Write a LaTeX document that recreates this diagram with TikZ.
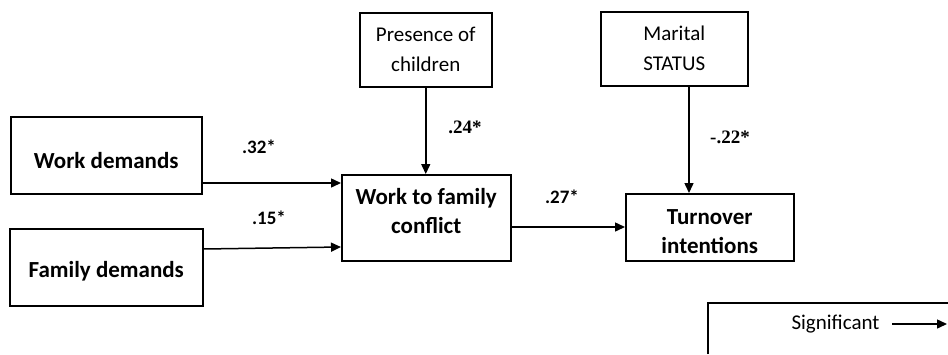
\documentclass[tikz,border=0pt]{standalone}
\usepackage{fontspec}
\setmainfont{Carlito}
\newfontfamily\numserif{Liberation Serif}
\usetikzlibrary{arrows.meta,positioning}
\newcommand{\dropby}[2]{\raisebox{-#1}[\height][\depth]{#2}}
\tikzset{
  box/.style={draw, line width=1.5pt, rectangle, inner sep=0pt, align=center, anchor=north west},
  boxtxt/.style={font=\fontsize{21}{30}\selectfont},
  boxbold/.style={font=\bfseries\fontsize{23}{29.5}\selectfont},
  conn/.style={line width=1.5pt, -{Triangle[length=10pt,width=9pt]}},
  coef/.style={font=\bfseries\fontsize{19}{20}\selectfont},
  coefserif/.style={font=\numserif\bfseries\fontsize{19}{20}\selectfont},
}
\begin{document}
\begin{tikzpicture}[x=1pt,y=-1pt]
\useasboundingbox (0,0) rectangle (948,354);
% boxes
\node[box, boxbold, minimum width=191pt, minimum height=77pt] (wd) at (10,116) {\dropby{5pt}{Work demands}};
\node[box, boxbold, minimum width=193pt, minimum height=77pt] (fd) at (9,228) {\dropby{4pt}{Family demands}};
\node[box, boxtxt, minimum width=132pt, minimum height=74pt] (pc) at (359,12) {Presence of\\children};
\node[box, boxtxt, minimum width=147pt, minimum height=74pt] (ms) at (600,11) {Marital\\STATUS};
\node[box, boxbold, minimum width=169pt, minimum height=86pt, text depth=14pt] (wfc) at (341,174) {Work to family\\conflict};
\node[box, boxbold, minimum width=168pt, minimum height=67pt, text height=53pt] (to) at (625,193) {Turnover\\intentions};
% connectors
\draw[conn] ([yshift=-67pt]wd.north east) -- ([yshift=-9pt]wfc.north west);
\draw[conn] ([yshift=-21pt]fd.north east) -- ([yshift=-73pt]wfc.north west);
\draw[conn] (pc.south) -- (pc.south |- wfc.north);
\draw[conn] ([yshift=-53pt]wfc.north east) -- ([yshift=-34pt]to.north west);
\draw[conn] ([xshift=89pt]ms.south west) coordinate (msout) -- (msout |- to.north);
% coefficients
\node[coef] (c1) at (259,147) {.32*};
\node[coef] (c2) at (269,218) {.15*};
\node[coef] (c3) at (562,197) {.27*};
\node[coefserif] (c4) at (465,127) {.24*};
\node[coefserif] (c5) at (730,137) {-.22*};
% legend
\draw[line width=1.5pt] (708,354) -- (708,303) -- (948,303);
\node[boxtxt, anchor=west] (sig) at (788,324) {Significant};
\coordinate (la) at (892,324);
\coordinate (lb) at (947,324);
\draw[conn] (la) -- (lb);
\end{tikzpicture}
\end{document}
